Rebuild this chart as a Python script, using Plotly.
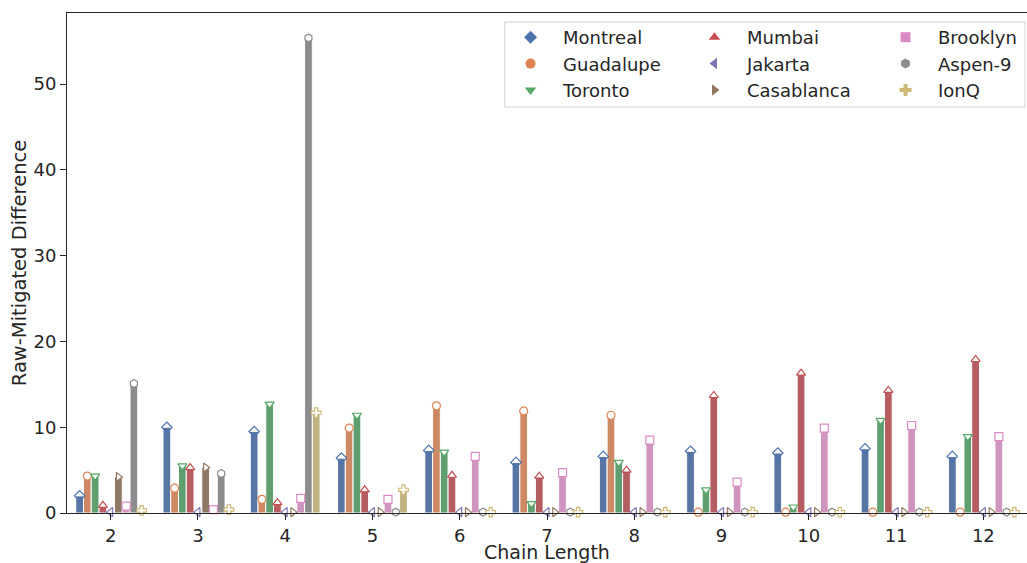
import numpy as np
import plotly.graph_objects as go

# Chain lengths on the x axis
chain_lengths = [2, 3, 4, 5, 6, 7, 8, 9, 10, 11, 12]

# Raw minus mitigated difference per device
montreal = [2.0, 10.0, 9.5, 6.4, 7.3, 5.9, 6.6, 7.2, 7.0, 7.5, 6.6]
guadalupe = [4.3, 2.9, 1.6, 9.9, 12.5, 11.9, 11.4, 0.1, 0.1, 0.1, 0.1]
toronto = [4.3, 5.5, 12.7, 11.4, 7.1, 1.1, 5.9, 2.7, 0.7, 10.8, 8.9]
mumbai = [0.9, 5.3, 1.2, 2.7, 4.4, 4.3, 5.0, 13.7, 16.3, 14.3, 17.9]
jakarta = [0.1, 0.1, 0.1, 0.1, 0.1, 0.1, 0.1, 0.1, 0.1, 0.1, 0.1]
casablanca = [4.2, 5.3, 0.1, 0.1, 0.1, 0.1, 0.1, 0.1, 0.1, 0.1, 0.1]
brooklyn = [0.8, 0.4, 1.7, 1.6, 6.6, 4.7, 8.5, 3.6, 9.9, 10.2, 8.9]
aspen9 = [15.1, 4.6, 55.4, 0.1, 0.1, 0.1, 0.1, 0.1, 0.1, 0.1, 0.1]
ionq = [0.3, 0.4, 11.7, 2.7, 0.1, 0.1, 0.1, 0.1, 0.1, 0.1, 0.1]

devices = ["Montreal", "Guadalupe", "Toronto", "Mumbai", "Jakarta",
           "Casablanca", "Brooklyn", "Aspen-9", "IonQ"]
values = [montreal, guadalupe, toronto, mumbai, jakarta,
          casablanca, brooklyn, aspen9, ionq]

# seaborn "deep" palette (markers) and its 0.75-saturation version (bars)
marker_colors = ["#4C72B0", "#DD8452", "#55A868", "#C44E52", "#8172B3",
                 "#937860", "#DA8BC3", "#8C8C8C", "#CCB974"]
bar_colors = ["#5975A4", "#CC8963", "#5F9E6E", "#B55D60", "#857AAB",
              "#8D7866", "#D095BF", "#8C8C8C", "#C1B37F"]
symbols = ["diamond", "circle", "triangle-down", "triangle-up", "triangle-left",
           "triangle-right", "square", "hexagon", "cross"]

# three legend columns, three devices each
legend_ids = ["legend", "legend2", "legend3"]

n = len(devices)
group_width = 0.8
w = group_width / n
x = np.array(chain_lengths, dtype=float)

fig = go.Figure()

for i, (name, vals) in enumerate(zip(devices, values)):
    off = (i - n / 2) * w
    fig.add_trace(go.Bar(
        x=x, y=vals, width=w, offset=off,
        marker=dict(color=bar_colors[i], line=dict(color="white", width=1)),
        showlegend=False, name=name,
    ))

for i, (name, vals) in enumerate(zip(devices, values)):
    centre = x + (i - (n - 1) / 2) * w
    fill = "rgba(0,0,0,0)" if symbols[i] == "diamond" else "white"
    fig.add_trace(go.Scatter(
        x=centre, y=vals, mode="markers",
        marker=dict(symbol=symbols[i], size=8, color=fill,
                    line=dict(color=marker_colors[i], width=1.2)),
        showlegend=False, name=name, cliponaxis=False,
    ))

for i, name in enumerate(devices):
    fig.add_trace(go.Scatter(
        x=[None], y=[None], mode="markers", name=name,
        legend=legend_ids[i // 3],
        marker=dict(symbol=symbols[i], size=10, color=marker_colors[i]),
    ))

text_color = "#262626"
legend_style = dict(
    yanchor="top", xanchor="left", y=0.988,
    font=dict(size=18, color=text_color),
    bgcolor="rgba(0,0,0,0)", borderwidth=0, itemwidth=55,
)

fig.update_layout(
    width=1027, height=563,
    margin=dict(l=67, r=0, t=13, b=50),
    paper_bgcolor="white", plot_bgcolor="white",
    barmode="overlay",
    font=dict(family="DejaVu Sans", size=18, color=text_color),
    legend=dict(x=0.449, **legend_style),
    legend2=dict(x=0.6406, **legend_style),
    legend3=dict(x=0.8396, **legend_style),
    shapes=[dict(
        type="rect", xref="paper", yref="paper",
        x0=0.456, x1=0.998, y0=0.812, y1=0.982,
        line=dict(color="#d0d0d0", width=1), fillcolor="white", layer="below",
    )],
    xaxis=dict(
        range=[1.5, 12.5], tickmode="array", tickvals=chain_lengths,
        ticktext=[str(c) for c in chain_lengths],
        showline=True, linecolor=text_color, linewidth=1, mirror=True,
        ticks="outside", ticklen=6, tickcolor=text_color, showgrid=False,
        zeroline=False, tickfont=dict(size=18), automargin=False,
        title=dict(text="Chain Length", standoff=8, font=dict(size=19)),
    ),
    yaxis=dict(
        range=[0, 58.3], tickvals=[0, 10, 20, 30, 40, 50],
        showline=True, linecolor=text_color, linewidth=1, mirror=True,
        ticks="outside", ticklen=6, tickcolor=text_color, showgrid=False,
        zeroline=False, tickfont=dict(size=18), automargin=False,
        title=dict(text="Raw-Mitigated Difference", standoff=1, font=dict(size=19.5)),
    ),
)

fig.write_html("out.html")
